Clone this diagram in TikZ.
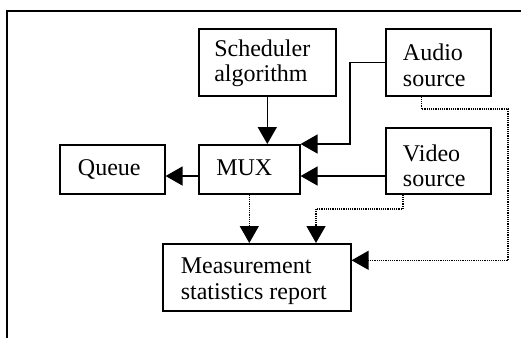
\documentclass[tikz,border=0pt]{standalone}
\usepackage{fontspec}
\setmainfont{Liberation Serif}
\usetikzlibrary{arrows.meta,calc}
\begin{document}
\begin{tikzpicture}[x=1pt,y=-1pt,
  box/.style={draw, line width=1.6pt, inner sep=0pt, anchor=north west},
  boxtext/.style={inner sep=0pt, align=left, font=\fontsize{24}{25.5}\selectfont},
  flow/.style={line width=1.6pt, -{Triangle[length=17pt,width=19pt]}},
  dotflow/.style={line width=1.4pt, dash pattern=on 1.2pt off 1pt, -{Triangle[length=17pt,width=19pt]}}]
\useasboundingbox (0,0) rectangle (521,338);
% frame
\draw[line width=1.1pt] (7,338) -- (7,11) -- (521,11);
% blocks
\node[box, minimum width=137, minimum height=67] (sched) at (198,28) {};
\node[box, minimum width=105, minimum height=67] (audio) at (385,28) {};
\node[box, minimum width=105, minimum height=49] (queue) at (59,144) {};
\node[box, minimum width=101, minimum height=49] (mux) at (198,144) {};
\node[box, minimum width=105, minimum height=66] (video) at (385,127) {};
\node[box, minimum width=188, minimum height=67] (meas) at (162,243) {};
% block labels
\node[boxtext, anchor=center] (schedtxt) at ($(sched.center)+(-5,1)$) {Scheduler\\algorithm};
\node[boxtext, anchor=center] (audiotxt) at ($(audio.center)+(-4,3)$) {Audio\\source};
\node[boxtext, anchor=center] (queuetxt) at ($(queue.center)+(-3,0)$) {Queue};
\node[boxtext, anchor=center] (muxtxt) at ($(mux.center)+(-5,-2)$) {MUX};
\node[boxtext, anchor=center] (videotxt) at ($(video.center)+(-4,5)$) {Video\\source};
\node[boxtext, anchor=center] (meastxt) at ($(meas.center)+(-3,4)$) {Measurement\\statistics report};
% control and data flow
\draw[flow] (sched) -- (sched |- mux.north);
\draw[flow] (audio.west) -| (350,144) -- (mux.north east);
\draw[flow] (video.west |- 0,176) -- (mux.east |- 0,176);
\draw[flow] (mux.west |- 0,176) -- (queue.east |- 0,176);
% measurement taps
\draw[dotflow] (mux.south) -- (mux.south |- meas.north);
\draw[dotflow] ($(video.south)+(-35.5,0)$) |- (316,209) -- (316,243);
\draw[dotflow] ($(audio.south)+(-17,0)$) |- (508,109) |- ($(meas.east)+(0,-17)$);
\end{tikzpicture}
\end{document}
